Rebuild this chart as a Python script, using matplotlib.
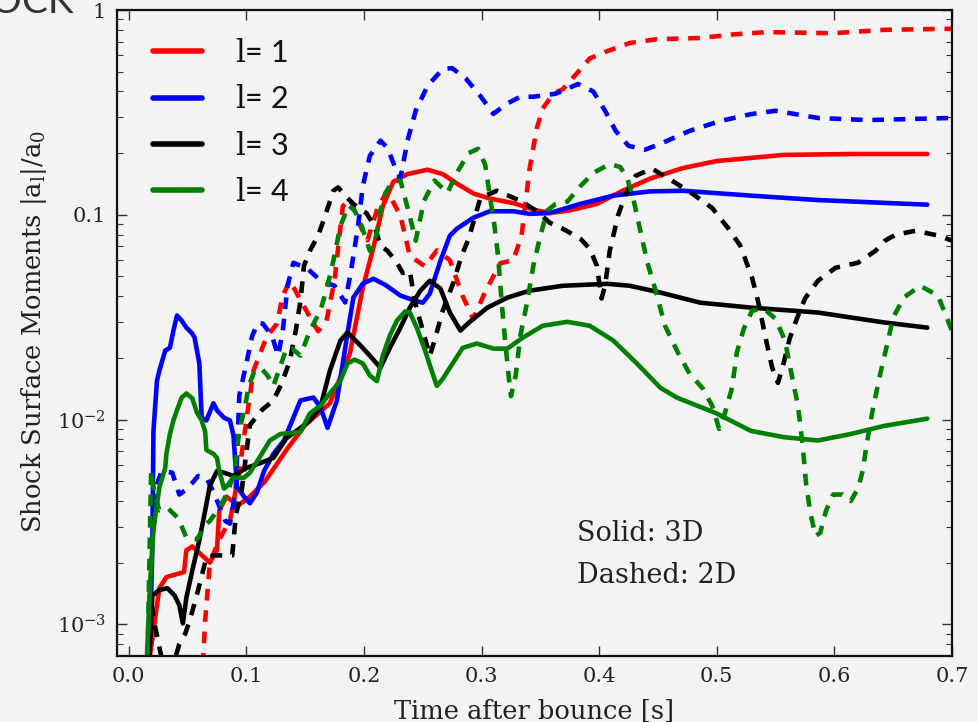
import matplotlib
matplotlib.use("Agg")
import matplotlib.pyplot as plt
from matplotlib.ticker import FixedLocator, LogLocator, NullFormatter

plt.rcParams['mathtext.fontset'] = 'dejavuserif'
plt.rcParams['lines.scale_dashes'] = False

# ---------------- data ----------------
# l = 1
l1_3d_t = [0.017, 0.018, 0.026, 0.032, 0.047, 0.049, 0.054, 0.069, 0.075, 0.077, 0.083, 0.093, 0.103,
           0.116, 0.134, 0.150, 0.171, 0.188, 0.199, 0.208, 0.216, 0.225, 0.237, 0.254, 0.267, 0.279,
           0.293, 0.307, 0.327, 0.347, 0.358, 0.375, 0.398, 0.420, 0.443, 0.471, 0.500, 0.557, 0.614, 0.679]
l1_3d_y = [0.0004, 0.0007, 0.0015, 0.0017, 0.0018, 0.0023, 0.0024, 0.0020, 0.0023, 0.0036, 0.0042, 0.0038,
           0.0042, 0.0050, 0.0071, 0.0094, 0.012, 0.021, 0.044, 0.069, 0.11, 0.145, 0.158, 0.166, 0.158,
           0.142, 0.127, 0.12, 0.114, 0.105, 0.102, 0.105, 0.113, 0.131, 0.150, 0.169, 0.183, 0.196, 0.198, 0.198]
l1_2d_t = [0.062, 0.065, 0.069, 0.077, 0.086, 0.094, 0.100, 0.106, 0.117, 0.126, 0.131, 0.137, 0.151,
           0.161, 0.168, 0.175, 0.182, 0.188, 0.197, 0.203, 0.212, 0.220, 0.231, 0.239, 0.252, 0.262,
           0.273, 0.284, 0.293, 0.303, 0.316, 0.327, 0.334, 0.341, 0.347, 0.352, 0.361, 0.369, 0.381,
           0.392, 0.407, 0.426, 0.449, 0.486, 0.514, 0.543, 0.599, 0.642, 0.700]
l1_2d_y = [0.0005, 0.00105, 0.0020, 0.0026, 0.0032, 0.0056, 0.0099, 0.0173, 0.0251, 0.0294, 0.0403, 0.0477,
           0.034, 0.027, 0.030, 0.048, 0.11, 0.12, 0.088, 0.075, 0.11, 0.13, 0.099, 0.063, 0.056, 0.067,
           0.060, 0.040, 0.031, 0.042, 0.058, 0.060, 0.079, 0.17, 0.265, 0.33, 0.39, 0.41, 0.49,
           0.58, 0.63, 0.69, 0.72, 0.73, 0.76, 0.78, 0.77, 0.80, 0.81]

# l = 2
l2_3d_t = [0.017, 0.020, 0.021, 0.024, 0.026, 0.031, 0.035, 0.038, 0.041, 0.045, 0.049, 0.054, 0.056,
           0.060, 0.062, 0.066, 0.072, 0.075, 0.081, 0.086, 0.089, 0.092, 0.098, 0.103, 0.109, 0.115,
           0.123, 0.132, 0.146, 0.157, 0.163, 0.169, 0.177, 0.186, 0.191, 0.199, 0.208, 0.218, 0.231,
           0.243, 0.250, 0.256, 0.265, 0.273, 0.279, 0.293, 0.307, 0.327, 0.341, 0.358, 0.384, 0.412,
           0.443, 0.471, 0.529, 0.586, 0.679]
l2_3d_y = [0.0005, 0.0023, 0.0088, 0.0155, 0.0173, 0.0217, 0.0224, 0.0272, 0.0322, 0.0304, 0.0281, 0.0263,
           0.0251, 0.0188, 0.0102, 0.0099, 0.0120, 0.0111, 0.0102, 0.0099, 0.0084, 0.0047, 0.0042, 0.0039,
           0.0044, 0.0056, 0.0068, 0.0079, 0.0124, 0.0128, 0.0115, 0.0091, 0.0124, 0.0263, 0.0394, 0.0461,
           0.0487, 0.0455, 0.0403, 0.0381, 0.0372, 0.0412, 0.0596, 0.079, 0.0855, 0.0967, 0.104, 0.104,
           0.101, 0.102, 0.113, 0.124, 0.130, 0.131, 0.124, 0.118, 0.112]
l2_2d_t = [0.017, 0.020, 0.022, 0.028, 0.037, 0.043, 0.050, 0.059, 0.066, 0.073, 0.082, 0.086, 0.091,
           0.094, 0.100, 0.105, 0.110, 0.114, 0.122, 0.127, 0.131, 0.135, 0.140, 0.152, 0.163, 0.175,
           0.184, 0.189, 0.195, 0.199, 0.205, 0.214, 0.220, 0.226, 0.231, 0.237, 0.244, 0.254, 0.267,
           0.275, 0.287, 0.299, 0.310, 0.322, 0.333, 0.344, 0.363, 0.382, 0.395, 0.405, 0.414, 0.425,
           0.439, 0.452, 0.477, 0.503, 0.529, 0.550, 0.586, 0.628, 0.700]
l2_2d_y = [0.0009, 0.0026, 0.0045, 0.0056, 0.0055, 0.0043, 0.0046, 0.0053, 0.0052, 0.0043, 0.0032, 0.0031,
           0.0045, 0.0131, 0.0188, 0.0257, 0.0297, 0.0294, 0.0254, 0.0205, 0.0272, 0.045, 0.0583, 0.0545,
           0.0477, 0.045, 0.0373, 0.0533, 0.0883, 0.138, 0.194, 0.23, 0.212, 0.173, 0.151, 0.23, 0.322,
           0.426, 0.515, 0.52, 0.46, 0.38, 0.311, 0.35, 0.377, 0.377, 0.39, 0.435, 0.40, 0.322, 0.257,
           0.217, 0.208, 0.222, 0.257, 0.287, 0.31, 0.322, 0.297, 0.29, 0.297]

# l = 3
l3_3d_t = [0.017, 0.020, 0.026, 0.033, 0.039, 0.043, 0.046, 0.049, 0.054, 0.060, 0.065, 0.069, 0.075,
           0.081, 0.089, 0.100, 0.111, 0.123, 0.134, 0.146, 0.154, 0.163, 0.171, 0.180, 0.186, 0.197,
           0.205, 0.214, 0.222, 0.231, 0.239, 0.248, 0.256, 0.265, 0.273, 0.282, 0.290, 0.305, 0.322,
           0.341, 0.369, 0.407, 0.426, 0.452, 0.486, 0.529, 0.586, 0.642, 0.679]
l3_3d_y = [0.0006, 0.00138, 0.00147, 0.0015, 0.00138, 0.00124, 0.00101, 0.00135, 0.00183, 0.00257, 0.0036,
           0.00476, 0.0056, 0.0055, 0.0053, 0.0058, 0.0061, 0.0065, 0.0081, 0.0091, 0.0099, 0.0115, 0.0173,
           0.0243, 0.0266, 0.023, 0.0205, 0.0179, 0.0224, 0.0281, 0.0352, 0.0426, 0.0476, 0.0436, 0.0333,
           0.0272, 0.0300, 0.0352, 0.0394, 0.0426, 0.045, 0.046, 0.045, 0.0417, 0.0372, 0.0352, 0.0333,
           0.0298, 0.0281]
l3_2d_t = [0.016, 0.018, 0.022, 0.030, 0.040, 0.043, 0.048, 0.052, 0.059, 0.066, 0.073, 0.082, 0.088,
           0.091, 0.096, 0.100, 0.103, 0.113, 0.123, 0.130, 0.137, 0.142, 0.146, 0.149, 0.154, 0.161,
           0.167, 0.174, 0.178, 0.184, 0.191, 0.202, 0.209, 0.214, 0.220, 0.228, 0.233, 0.239, 0.243,
           0.250, 0.256, 0.260, 0.267, 0.276, 0.283, 0.289, 0.299, 0.313, 0.333, 0.346, 0.358, 0.369,
           0.384, 0.392, 0.398, 0.402, 0.405, 0.409, 0.416, 0.422, 0.431, 0.445, 0.465, 0.479, 0.496,
           0.510, 0.520, 0.530, 0.535, 0.542, 0.547, 0.552, 0.557, 0.562, 0.568, 0.575, 0.586, 0.601,
           0.620, 0.635, 0.643, 0.652, 0.669, 0.689, 0.700]
l3_2d_y = [0.0006, 0.0014, 0.0010, 0.0006, 0.0007, 0.0008, 0.0009, 0.00105, 0.00147, 0.00212, 0.00217,
           0.00217, 0.00217, 0.0034, 0.0045, 0.0069, 0.0094, 0.0111, 0.0124, 0.015, 0.0194, 0.0272, 0.038,
           0.0564, 0.0667, 0.079, 0.099, 0.131, 0.136, 0.124, 0.113, 0.102, 0.088, 0.0706, 0.0667, 0.0583,
           0.052, 0.0533, 0.0381, 0.0272, 0.0205, 0.0243, 0.034, 0.0466, 0.063, 0.0764, 0.121, 0.131, 0.117,
           0.105, 0.0914, 0.0855, 0.0764, 0.0683, 0.0564, 0.039, 0.045, 0.0667, 0.099, 0.124, 0.155, 0.168,
           0.143, 0.127, 0.108, 0.0855, 0.0706, 0.0493, 0.038, 0.0243, 0.018, 0.0151, 0.019, 0.0249,
           0.031, 0.039, 0.0476, 0.0551, 0.0583, 0.0667, 0.0747, 0.0799, 0.0835, 0.079, 0.0747]

# l = 4
l4_3d_t = [0.015, 0.018, 0.021, 0.026, 0.031, 0.032, 0.035, 0.038, 0.041, 0.045, 0.049, 0.054, 0.058,
           0.062, 0.065, 0.066, 0.072, 0.075, 0.077, 0.081, 0.083, 0.089, 0.098, 0.103, 0.111, 0.120,
           0.129, 0.146, 0.154, 0.163, 0.171, 0.180, 0.186, 0.192, 0.199, 0.205, 0.211, 0.216, 0.222,
           0.228, 0.235, 0.239, 0.245, 0.252, 0.258, 0.262, 0.267, 0.273, 0.284, 0.296, 0.310, 0.322,
           0.335, 0.352, 0.373, 0.392, 0.412, 0.432, 0.452, 0.466, 0.500, 0.529, 0.557, 0.586, 0.614,
           0.642, 0.679]
l4_3d_y = [0.0006, 0.00152, 0.00288, 0.00466, 0.0058, 0.0068, 0.0085, 0.0099, 0.0111, 0.0128, 0.0134,
           0.0127, 0.0108, 0.0099, 0.0087, 0.0071, 0.0068, 0.0065, 0.0056, 0.0046, 0.0047, 0.0052, 0.0052,
           0.0055, 0.0065, 0.0079, 0.0085, 0.0087, 0.0107, 0.0117, 0.0134, 0.0155, 0.0188, 0.0196, 0.0188,
           0.0164, 0.0154, 0.0205, 0.0257, 0.0304, 0.0337, 0.0333, 0.028, 0.0217, 0.0170, 0.0146, 0.0158,
           0.0179, 0.0224, 0.0235, 0.0222, 0.0222, 0.0251, 0.0287, 0.0300, 0.0287, 0.0243, 0.0188, 0.0143,
           0.0128, 0.0107, 0.0088, 0.0082, 0.0079, 0.0085, 0.0093, 0.0101]
l4_2d_t = [0.016, 0.019, 0.022, 0.026, 0.033, 0.042, 0.049, 0.058, 0.066, 0.069, 0.077, 0.084, 0.090,
           0.094, 0.099, 0.102, 0.107, 0.113, 0.118, 0.123, 0.129, 0.134, 0.139, 0.146, 0.154, 0.163,
           0.169, 0.174, 0.180, 0.187, 0.192, 0.198, 0.205, 0.209, 0.214, 0.218, 0.224, 0.231, 0.235,
           0.241, 0.244, 0.251, 0.260, 0.271, 0.280, 0.289, 0.297, 0.303, 0.307, 0.311, 0.314, 0.317,
           0.320, 0.323, 0.325, 0.329, 0.333, 0.339, 0.344, 0.350, 0.356, 0.363, 0.373, 0.384, 0.395,
           0.409, 0.418, 0.424, 0.429, 0.435, 0.441, 0.448, 0.456, 0.467, 0.477, 0.488, 0.496, 0.502,
           0.507, 0.513, 0.517, 0.523, 0.530, 0.540, 0.550, 0.558, 0.563, 0.569, 0.573, 0.576, 0.580,
           0.584, 0.588, 0.593, 0.599, 0.607, 0.614, 0.620, 0.624, 0.628, 0.633, 0.639, 0.645, 0.650,
           0.659, 0.673, 0.688, 0.696, 0.700]
l4_2d_y = [0.0007, 0.0056, 0.0043, 0.0036, 0.0037, 0.0033, 0.00265, 0.0026, 0.0031, 0.0032, 0.0037,
           0.0044, 0.0056, 0.0088, 0.0117, 0.0146, 0.0173, 0.0177, 0.0164, 0.0146, 0.0183, 0.0222, 0.0222,
           0.0205, 0.0272, 0.034, 0.045, 0.0596, 0.0883, 0.111, 0.105, 0.0883, 0.0667, 0.0706, 0.105, 0.127,
           0.145, 0.147, 0.12, 0.0883, 0.0747, 0.117, 0.147, 0.128, 0.164, 0.20, 0.21, 0.176, 0.124, 0.088,
           0.063, 0.038, 0.0243, 0.0164, 0.013, 0.0164, 0.0257, 0.038, 0.0564, 0.079, 0.105, 0.113, 0.116,
           0.138, 0.160, 0.177, 0.171, 0.15, 0.12, 0.0836, 0.0583, 0.0426, 0.0287, 0.0212, 0.0167, 0.0142,
           0.0117, 0.0090, 0.0108, 0.0143, 0.0212, 0.0278, 0.034, 0.0348, 0.031, 0.0243, 0.0173, 0.0117,
           0.0075, 0.0048, 0.0034, 0.0027, 0.0028, 0.0036, 0.0043, 0.0043, 0.0040, 0.0046, 0.0056, 0.0079,
           0.0115, 0.0167, 0.0235, 0.0315, 0.0394, 0.045, 0.0403, 0.031, 0.027]

labels = [r"$\mathrm{l}$= 1", r"$\mathrm{l}$= 2", r"$\mathrm{l}$= 3", r"$\mathrm{l}$= 4"]
colors = ["#ff0000", "#0000ff", "#000000", "#008000"]
series_3d = [(l1_3d_t, l1_3d_y), (l2_3d_t, l2_3d_y), (l3_3d_t, l3_3d_y), (l4_3d_t, l4_3d_y)]
series_2d = [(l1_2d_t, l1_2d_y), (l2_2d_t, l2_2d_y), (l3_2d_t, l3_2d_y), (l4_2d_t, l4_2d_y)]

xticks = [0.0, 0.1, 0.2, 0.3, 0.4, 0.5, 0.6, 0.7]
yticks = [1e-3, 1e-2, 1e-1, 1.0]
ytick_labels = [r"$10^{-3}$", r"$10^{-2}$", "0.1", "1"]

# ---------------- figure ----------------
bg = "#f3f3f3"
fig = plt.figure(figsize=(9.79, 7.22), dpi=100, facecolor=bg)
ax = fig.add_axes([117 / 979, 1 - 656 / 722, 835 / 979, 646 / 722], facecolor=bg)

serif = "DejaVu Serif"
lw = 3.3
for i in range(4):
    t3, y3 = series_3d[i]
    t2, y2 = series_2d[i]
    ax.plot(t3, y3, color=colors[i], lw=lw, solid_capstyle='round', solid_joinstyle='round',
            label=labels[i])
    ax.plot(t2, y2, color=colors[i], lw=lw, linestyle=(0, (8.4, 7.0)), dash_capstyle='butt',
            dash_joinstyle='round')

ax.set_yscale('log')
ax.set_xlim(-0.01, 0.7)
ax.set_ylim(7e-4, 1.0)

ax.xaxis.set_major_locator(FixedLocator(xticks))
ax.set_xticklabels(["%.1f" % v for v in xticks])
ax.yaxis.set_major_locator(FixedLocator(yticks))
ax.set_yticklabels(ytick_labels)
ax.yaxis.set_minor_locator(LogLocator(base=10, subs=range(2, 10)))
ax.yaxis.set_minor_formatter(NullFormatter())

ax.tick_params(which='both', direction='in', top=True, right=True, color='#333333')
ax.tick_params(which='major', length=7, width=1.0, labelsize=15, pad=8)
ax.tick_params(which='minor', length=4, width=0.8)
for lab in ax.get_xticklabels() + ax.get_yticklabels():
    lab.set_family(serif)
    lab.set_color('#222222')
for s in ax.spines.values():
    s.set_linewidth(1.6)
    s.set_color('#111111')

ax.set_xlabel("Time after bounce [s]", family=serif, fontsize=18.5, color='#222222')
ax.xaxis.set_label_coords(0.5, -0.066)
ax.set_ylabel(r"Shock Surface Moments $|\mathrm{a}_{\mathrm{l}}|/\mathrm{a}_0$", family=serif,
              fontsize=18.5, color='#222222')
ax.yaxis.set_label_coords(-0.082, 0.503)

ax.text(0.551, 0.19, "Solid: 3D", transform=ax.transAxes, family=serif, fontsize=19.5,
        va='center', ha='left', color='#222222')
ax.text(0.551, 0.125, "Dashed: 2D", transform=ax.transAxes, family=serif, fontsize=19.5,
        va='center', ha='left', color='#222222')

leg = ax.legend(loc='upper left', bbox_to_anchor=(0.043, 0.955), frameon=False,
                handlelength=1.6, handletextpad=1.1, labelspacing=0.6, borderaxespad=0,
                borderpad=0, prop={'family': 'Lato', 'size': 22})
for line in leg.get_lines():
    line.set_linewidth(4.0)
for txt in leg.get_texts():
    txt.set_color('#111111')

fig.text(74 / 979, 1 - 13 / 722, "SHOCK", ha='right', va='baseline', fontsize=28,
         family='Lato', color='#333333')

fig.savefig("out.png", dpi=100, facecolor=bg)
